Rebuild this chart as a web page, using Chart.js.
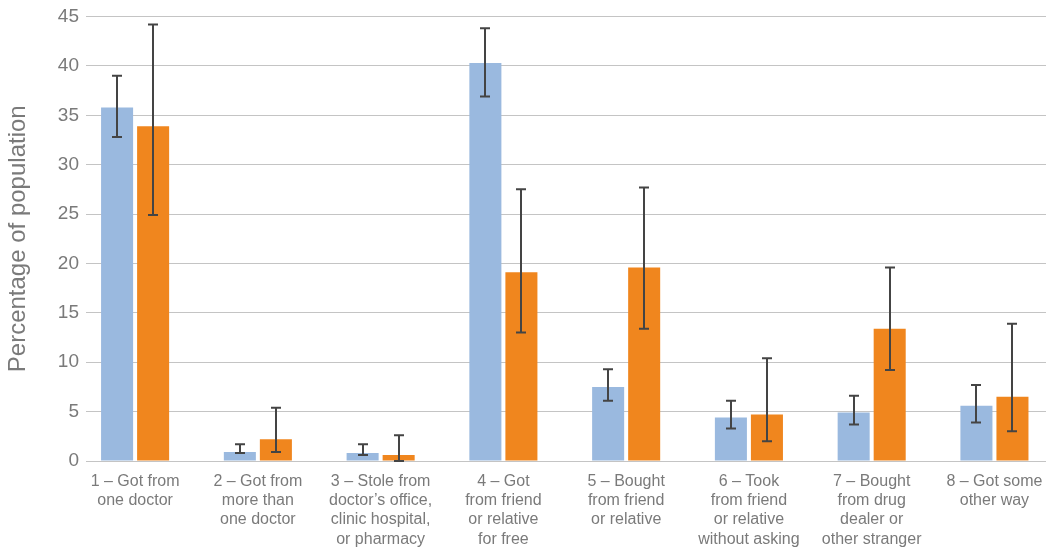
<!DOCTYPE html>
<html lang="en">
<head>
  <meta charset="UTF-8">
  <title>Source of prescription pain relievers</title>
  <script src="https://cdn.jsdelivr.net/npm/chart.js"></script>
  <style>
    body {
      margin: 0;
      background: #ffffff;
      overflow: hidden;
    }
  </style>
</head>
<body>
  <canvas id="chart" width="1046" height="548"></canvas>

  <script>
    const categories = [
      ['1 – Got from', 'one doctor'],
      ['2 – Got from', 'more than', 'one doctor'],
      ['3 – Stole from', 'doctor’s office,', 'clinic hospital,', 'or pharmacy'],
      ['4 – Got', 'from friend', 'or relative', 'for free'],
      ['5 – Bought', 'from friend', 'or relative'],
      ['6 – Took', 'from friend', 'or relative', 'without asking'],
      ['7 – Bought', 'from drug', 'dealer or', 'other stranger'],
      ['8 – Got some', 'other way']
    ];

    // blue series
    const blueValues = [35.8, 0.9, 0.8, 40.3, 7.5, 4.4, 4.9, 5.6];
    const blueLow    = [32.8, 0.8, 0.6, 36.9, 6.1, 3.3, 3.7, 3.9];
    const blueHigh   = [39.0, 1.7, 1.7, 43.8, 9.3, 6.1, 6.6, 7.7];

    // orange series
    const orangeValues = [33.9, 2.2, 0.6, 19.1, 19.6, 4.7, 13.4, 6.5];
    const orangeLow    = [24.9, 0.9, 0.0, 13.0, 13.4, 2.0, 9.2, 3.0];
    const orangeHigh   = [44.2, 5.4, 2.6, 27.5, 27.7, 10.4, 19.6, 13.9];

    const yTicks = [0, 5, 10, 15, 20, 25, 30, 35, 40, 45];

    const errorRanges = [
      { low: blueLow, high: blueHigh },
      { low: orangeLow, high: orangeHigh }
    ];

    // categories sit on a linear axis so the first group can start close to the y axis
    const toPoints = vals => vals.map((v, i) => ({ x: i, y: v }));

    const errorBars = {
      id: 'errorBars',
      afterDatasetsDraw(chart) {
        const ctx = chart.ctx;
        const y = chart.scales.y;
        ctx.save();
        ctx.strokeStyle = '#444444';
        ctx.lineWidth = 2;
        errorRanges.forEach((range, di) => {
          chart.getDatasetMeta(di).data.forEach((bar, i) => {
            const x = Math.round(bar.x);
            const yLo = y.getPixelForValue(range.low[i]);
            const yHi = y.getPixelForValue(range.high[i]);
            ctx.beginPath();
            ctx.moveTo(x, yLo);
            ctx.lineTo(x, yHi);
            ctx.moveTo(x - 5, yLo);
            ctx.lineTo(x + 5, yLo);
            ctx.moveTo(x - 5, yHi);
            ctx.lineTo(x + 5, yHi);
            ctx.stroke();
          });
        });
        ctx.restore();
      }
    };

    new Chart(document.getElementById('chart'), {
      type: 'bar',
      data: {
        datasets: [
          {
            data: toPoints(blueValues),
            backgroundColor: '#9ab9df',
            categoryPercentage: 0.587,
            barPercentage: 0.889
          },
          {
            data: toPoints(orangeValues),
            backgroundColor: '#f0861e',
            categoryPercentage: 0.587,
            barPercentage: 0.889
          }
        ]
      },
      options: {
        responsive: false,
        animation: false,
        layout: { padding: { top: 0, right: 0, bottom: 0, left: 0 } },
        plugins: {
          legend: { display: false },
          tooltip: { enabled: false }
        },
        scales: {
          x: {
            type: 'linear',
            offset: false,
            min: -0.4,
            max: 7.42,
            afterBuildTicks(scale) {
              scale.ticks = categories.map((c, i) => ({ value: i }));
            },
            grid: { display: false },
            border: { display: false },
            ticks: {
              color: '#7a7a7a',
              font: { family: 'Liberation Sans, Arial, sans-serif', size: 16, lineHeight: 1.2 },
              padding: 3,
              maxRotation: 0,
              autoSkip: false,
              callback: (v) => categories[v]
            },
            afterFit(scale) { scale.height = 87; }
          },
          y: {
            min: 0,
            max: 45,
            afterBuildTicks(scale) {
              scale.ticks = yTicks.map(v => ({ value: v }));
            },
            grid: { color: '#c4c4c4', lineWidth: 1, drawTicks: false },
            border: { display: false },
            ticks: {
              color: '#7a7a7a',
              font: { family: 'Liberation Sans, Arial, sans-serif', size: 19, lineHeight: 1.0 },
              padding: 7
            },
            title: {
              display: true,
              text: 'Percentage of population',
              color: '#7a7a7a',
              font: { family: 'Liberation Sans, Arial, sans-serif', size: 24 },
              padding: { top: 4, bottom: 0 }
            },
            afterFit(scale) { scale.width = 86; }
          }
        }
      },
      plugins: [errorBars]
    });
  </script>
</body>
</html>
